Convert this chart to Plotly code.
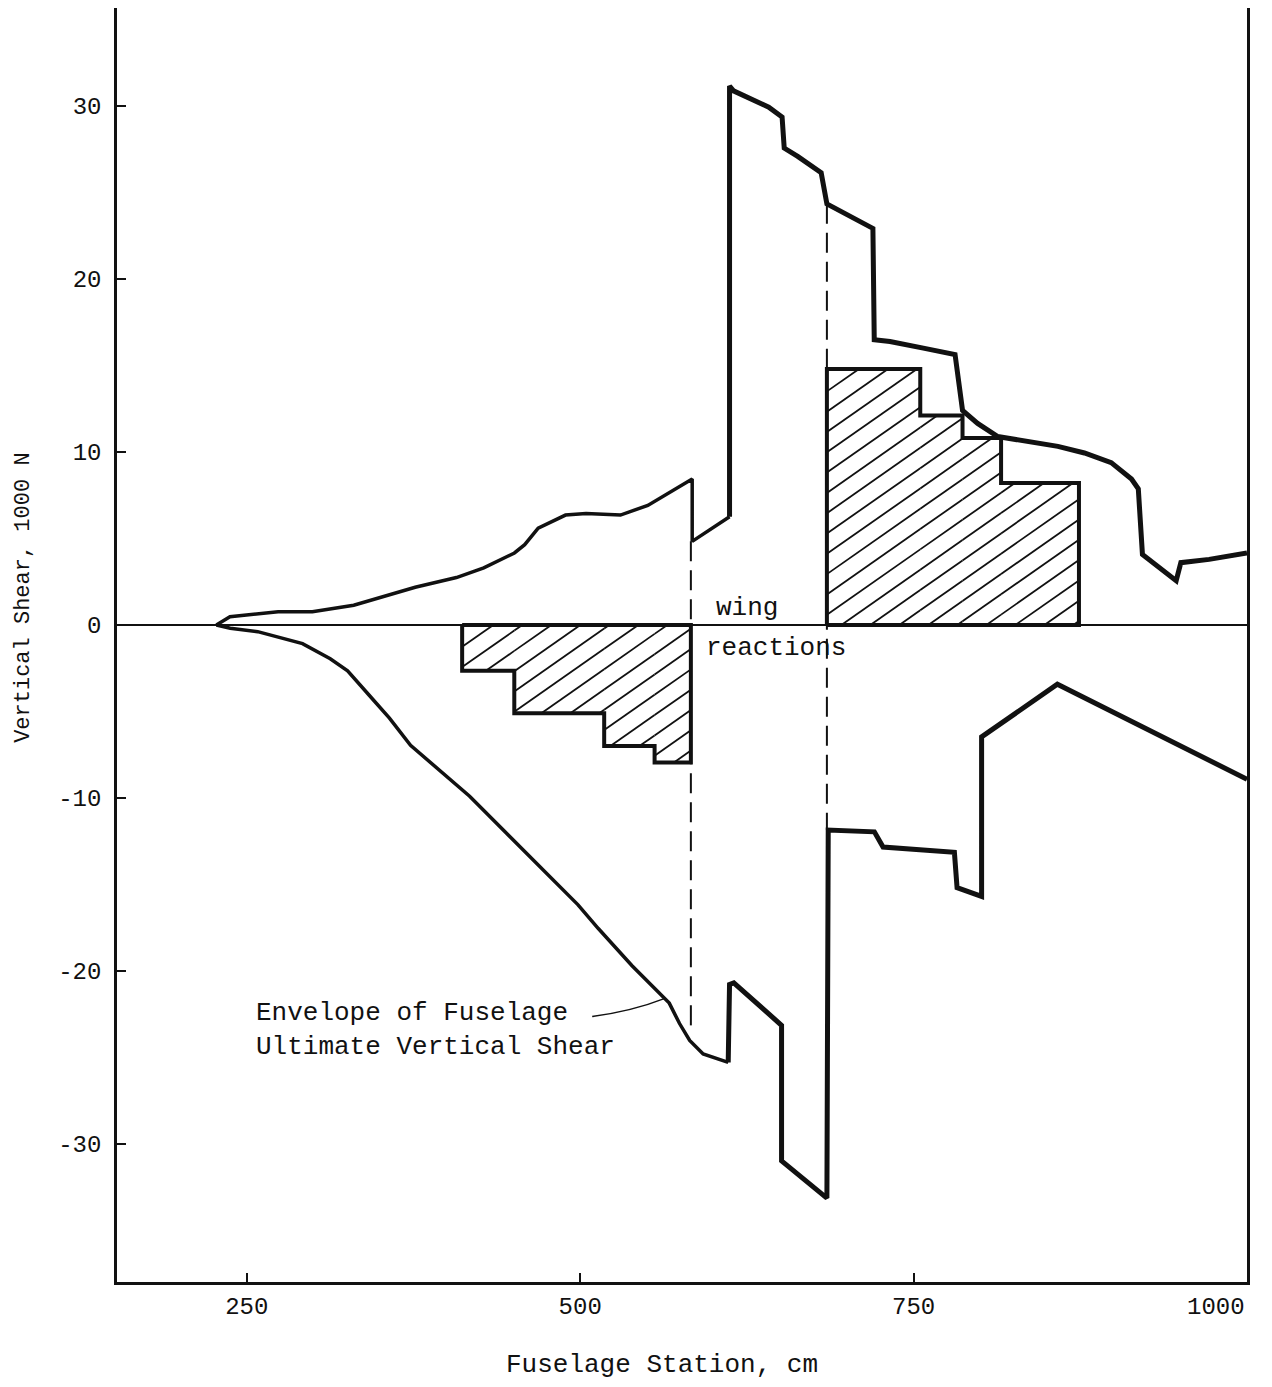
import math
import plotly.graph_objects as go

# ---------------- data (fuselage station in cm, vertical shear in 1000 N) -------------
upper_station = [227.2, 237.4, 273.5, 299.2, 330.2, 350.7, 376.3, 407.2, 427.7, 450.7,
                 458.4, 468.5, 489.0, 504.4, 530.2, 550.7, 584.0, 584.0, 612.0, 612.0,
                 615.0, 641.4, 651.4, 653.0, 663.1, 680.7, 685.0, 719.5, 720.5, 732.3,
                 757.3, 781.1, 786.7, 798.0, 813.1, 828.1, 858.2, 878.1, 898.2, 913.4,
                 918.5, 921.6, 946.9, 950.4, 971.6, 1000.0]
upper_shear = [0.0, 0.47, 0.76, 0.76, 1.14, 1.61, 2.18, 2.74, 3.3, 4.16,
               4.64, 5.59, 6.35, 6.44, 6.35, 6.91, 8.43, 4.83, 6.25, 31.15,
               30.87, 29.93, 29.36, 27.56, 27.08, 26.14, 24.34, 22.92, 16.48, 16.38,
               16.0, 15.63, 12.4, 11.65, 10.89, 10.7, 10.32, 9.94, 9.38, 8.43,
               7.86, 4.07, 2.56, 3.6, 3.79, 4.16]

lower_station = [227.2, 237.6, 258.2, 273.7, 291.8, 312.6, 325.6, 341.3, 357.0, 372.8,
                 393.6, 417.1, 498.4, 513.6, 538.9, 566.8, 574.5, 582.1, 592.2, 611.0,
                 612.0, 615.2, 651.0, 651.0, 685.0, 686.0, 720.6, 727.1, 780.6, 782.6,
                 801.0, 801.0, 857.8, 1000.0]
lower_shear = [0.0, -0.19, -0.39, -0.69, -1.08, -1.96, -2.65, -4.02, -5.39, -6.96,
               -8.33, -9.9, -16.18, -17.55, -19.7, -21.86, -23.04, -24.02, -24.8, -25.29,
               -20.78, -20.69, -23.14, -30.98, -33.13, -11.86, -11.96, -12.84, -13.14, -15.19,
               -15.69, -6.47, -3.43, -8.92]

# hatched wing-reaction step regions
rear_edges = [411.5, 450.6, 518.0, 555.8, 583.0]
rear_levels = [-2.65, -5.1, -7.0, -7.95]
front_edges = [685.0, 755.0, 786.7, 815.6, 874.0]
front_levels = [14.8, 12.1, 10.8, 8.2]

# dashed wing-reaction stations
wing_station = [583.0, 685.0]
dash_top = [4.83, 24.34]
dash_bottom = [-23.4, -11.86]

x_ticks = [250, 500, 750, 1000]
x_ticktext = ["250", "500", "750", ""]
y_ticks = [30, 20, 10, 0, -10, -20, -30]
y_ticktext = ["30", "20", "10", "0", "-10", "-20", "-30"]
X_RANGE = [152.7, 1000.0]
Y_RANGE = [-37.98, 35.66]

# ---------------- layout geometry ----------------
# (the page body adds an 8 px margin around the figure)
W, H = 1256, 1371
ML, MR, MT, MB = 109, 17, 0, 97
PW, PH = W - ML - MR, H - MT - MB
SX = PW / (X_RANGE[1] - X_RANGE[0])
SY = PH / (Y_RANGE[1] - Y_RANGE[0])

FONT = "Liberation Mono, Courier New, monospace"
INK = "#111111"


def step_outline(edges, levels):
    xs, ys = [edges[0]], [0.0]
    for i, lv in enumerate(levels):
        xs += [edges[i], edges[i + 1]]
        ys += [lv, lv]
    xs += [edges[-1], edges[0]]
    ys += [0.0, 0.0]
    return xs, ys


def hatch(edges, levels, angle_deg=35.0, hspace=29.0):
    m = math.tan(math.radians(angle_deg))
    dv = hspace * m
    rects = []
    for i, lv in enumerate(levels):
        rects.append((edges[i] * SX, edges[i + 1] * SX, min(0, lv) * SY, max(0, lv) * SY))
    cs = [v - m * u for r in rects for u in r[:2] for v in r[2:]]
    k0, k1 = math.floor(min(cs) / dv), math.ceil(max(cs) / dv)
    hx, hy = [], []
    for r in rects:
        ua, ub, va, vb = r
        for k in range(k0, k1 + 1):
            c = k * dv
            lo = max(ua, (va - c) / m)
            hi = min(ub, (vb - c) / m)
            if hi - lo > 0.3:
                hx += [lo / SX, hi / SX, None]
                hy += [(m * lo + c) / SY, (m * hi + c) / SY, None]
    return hx, hy


fig = go.Figure()

# hatching
for e, l in ((rear_edges, rear_levels), (front_edges, front_levels)):
    hx, hy = hatch(e, l)
    fig.add_trace(go.Scatter(x=hx, y=hy, mode="lines", line=dict(color=INK, width=1.8),
                             hoverinfo="skip", showlegend=False))
    ox, oy = step_outline(e, l)
    fig.add_trace(go.Scatter(x=ox, y=oy, mode="lines", line=dict(color=INK, width=4),
                             hoverinfo="skip", showlegend=False))

# dashed wing reaction lines
for xs, yt, yb in zip(wing_station, dash_top, dash_bottom):
    fig.add_trace(go.Scatter(x=[xs, xs], y=[yt, yb], mode="lines",
                             line=dict(color=INK, width=2, dash="20px,9px"),
                             hoverinfo="skip", showlegend=False))

# envelope curves (thinner forward of the wing)
iu = upper_station.index(612.0)
il = lower_station.index(611.0) + 1
fig.add_trace(go.Scatter(x=upper_station[:iu + 1], y=upper_shear[:iu + 1], mode="lines",
                         line=dict(color=INK, width=3.5), showlegend=False))
fig.add_trace(go.Scatter(x=upper_station[iu:], y=upper_shear[iu:], mode="lines",
                         line=dict(color=INK, width=5), showlegend=False))
fig.add_trace(go.Scatter(x=lower_station[:il], y=lower_shear[:il], mode="lines",
                         line=dict(color=INK, width=3.5), showlegend=False))
fig.add_trace(go.Scatter(x=lower_station[il - 1:], y=lower_shear[il - 1:], mode="lines",
                         line=dict(color=INK, width=5), showlegend=False))

# leader line for envelope label
fig.add_shape(type="path", xref="x", yref="y",
              path="M 509,-22.64 Q 540,-22.3 563,-21.6",
              line=dict(color=INK, width=1.5))

ann_font = dict(family=FONT, size=26, color=INK)
fig.add_annotation(x=600.3, y=0.98, xref="x", yref="y", text="wing", showarrow=False,
                   xanchor="left", yanchor="middle", font=ann_font)
fig.add_annotation(x=592.8, y=-1.33, xref="x", yref="y", text="reactions", showarrow=False,
                   xanchor="left", yanchor="middle", font=ann_font)
fig.add_annotation(x=255.4, y=-23.4, xref="x", yref="y",
                   text="Envelope of Fuselage<br>Ultimate Vertical Shear",
                   showarrow=False, xanchor="left", yanchor="middle", align="left",
                   font=ann_font)

# axis titles and the last x tick label
fig.add_annotation(x=0.4823, y=0, xref="paper", yref="paper", yshift=-83,
                   text="Fuselage Station, cm", showarrow=False,
                   xanchor="center", yanchor="middle", font=dict(family=FONT, size=26, color=INK))
fig.add_annotation(x=0, y=0.537, xref="paper", yref="paper", xshift=-93,
                   text="Vertical Shear, 1000 N", showarrow=False, textangle=-90,
                   xanchor="center", yanchor="middle", font=dict(family=FONT, size=22, color=INK))
fig.add_annotation(x=1000, y=0, xref="x", yref="paper", yshift=-10, xshift=0,
                   text="1000", showarrow=False, xanchor="right", yanchor="top",
                   font=dict(family=FONT, size=24, color=INK))

axis_common = dict(showgrid=False, showline=True, mirror=True, linecolor=INK, linewidth=2.5,
                   ticks="inside", ticklen=9, tickwidth=2, tickcolor=INK,
                   tickfont=dict(family=FONT, size=24, color=INK), automargin=False)

fig.update_layout(
    width=W, height=H,
    margin=dict(l=ML, r=MR, t=MT, b=MB),
    paper_bgcolor="white", plot_bgcolor="white",
    xaxis=dict(range=X_RANGE, tickvals=x_ticks, ticktext=x_ticktext, zeroline=False,
               ticklabelstandoff=0, **axis_common),
    yaxis=dict(range=Y_RANGE, tickvals=y_ticks, ticktext=y_ticktext, zeroline=True,
               zerolinecolor=INK, zerolinewidth=1.6, ticklabelstandoff=8, **axis_common),
    showlegend=False,
)

fig.write_html("out.html")
